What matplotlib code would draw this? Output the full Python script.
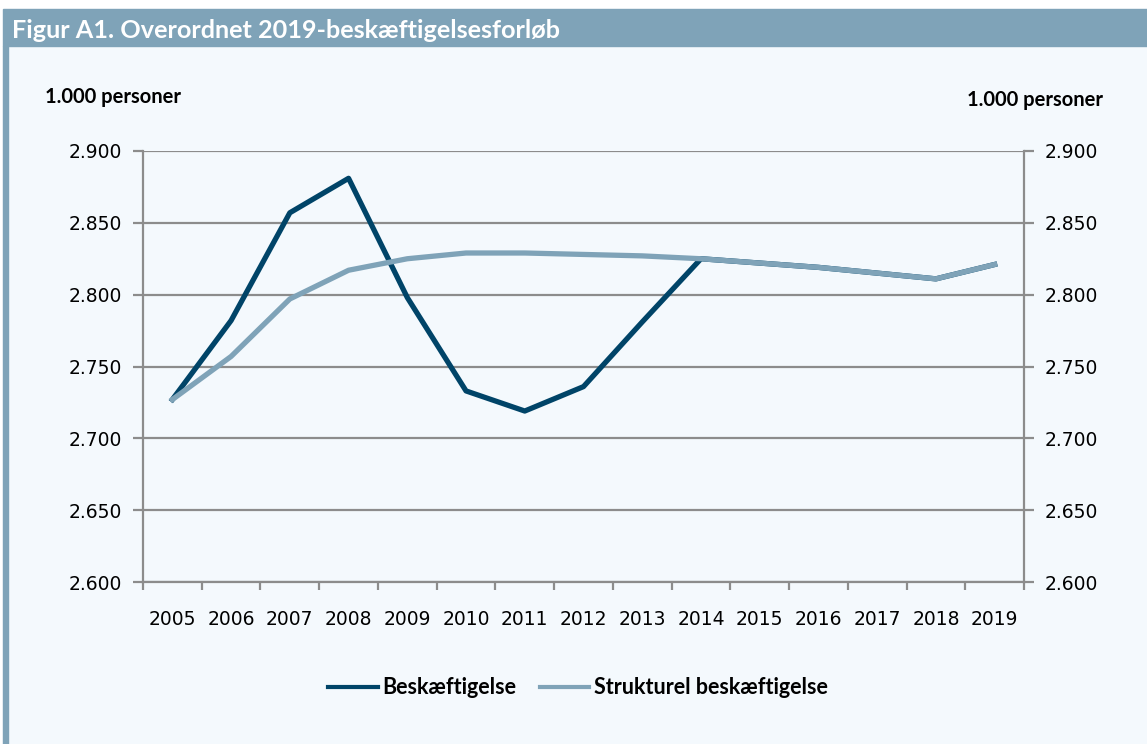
import matplotlib.pyplot as plt
from matplotlib.patches import Rectangle
from matplotlib.ticker import FixedLocator, FuncFormatter

# Data (1.000 personer)
years = [str(y) for y in range(2005, 2020)]
beskaeftigelse = [2727, 2782, 2857, 2881, 2798, 2733, 2719, 2736, 2781, 2825,
                  2822, 2819, 2815, 2811, 2821]
strukturel = [2727, 2757, 2797, 2817, 2825, 2829, 2829, 2828, 2827, 2825,
              2822, 2819, 2815, 2811, 2821]
yticks = [2600, 2650, 2700, 2750, 2800, 2850, 2900]

dark = '#004468'
light = '#7fa3b8'
grid_col = '#8c8c8c'
bg = '#f4f9fd'

fig = plt.figure(figsize=(11.47, 7.44), dpi=100, facecolor='white')

# Panel background, header bar and left stripe
fig.patches.append(Rectangle((3/1147, 0), 1 - 3/1147, 1 - 46/744,
                             transform=fig.transFigure, color=bg, zorder=-2))
fig.patches.append(Rectangle((3/1147, 1 - 46/744), 1 - 3/1147, 37/744,
                             transform=fig.transFigure, color=light, zorder=-2))
fig.patches.append(Rectangle((3/1147, 0), 5/1147, 1 - 46/744,
                             transform=fig.transFigure, color=light, zorder=-2))

fig.text(12/1147, 1 - 30/744, 'Figur A1. Overordnet 2019-beskæftigelsesforløb',
         color='white', fontsize=18.2, fontfamily='Lato', fontweight='bold',
         va='center', ha='left')

ax = fig.add_axes([143/1147, 1 - 582/744, (1024 - 143)/1147, (582 - 151)/744])
ax.patch.set_alpha(0)

x = list(range(len(years)))
ax.plot(x, beskaeftigelse, color=dark, lw=3.8, solid_joinstyle='round',
        label='Beskæftigelse', zorder=3)
ax.plot(x, strukturel, color=light, lw=3.8, solid_joinstyle='round',
        label='Strukturel beskæftigelse', zorder=4)

ax.set_xlim(-0.5, len(years) - 0.5)
ax.set_ylim(2600, 2900)
ax.set_yticks(yticks)
ax.yaxis.set_major_formatter(FuncFormatter(lambda v, p: f'{v/1000:.3f}'))
ax.set_xticks(x)
ax.set_xticklabels(years)
ax.xaxis.set_minor_locator(FixedLocator([i - 0.5 for i in range(len(years) + 1)]))

ax.grid(axis='y', color=grid_col, lw=1.6, zorder=1)
ax.set_axisbelow(True)
for side in ['left', 'right', 'bottom']:
    ax.spines[side].set_color(grid_col)
    ax.spines[side].set_linewidth(1.6)
ax.spines['top'].set_visible(False)

ax.tick_params(axis='y', which='major', left=True, right=True, labelleft=True,
               labelright=True, length=7, width=1.6, color=grid_col,
               labelsize=13.5, pad=8)
ax.tick_params(axis='x', which='major', length=0, labelsize=13.5, pad=20)
ax.tick_params(axis='x', which='minor', length=6, width=1.6, color=grid_col)
for lab in ax.get_xticklabels() + ax.get_yticklabels():
    lab.set_fontfamily('DejaVu Sans')

fig.text(45/1147, 1 - 97/744, '1.000 personer', fontsize=14.5,
         fontfamily='Lato', fontweight='bold', va='center', ha='left')
fig.text(1103/1147, 1 - 100/744, '1.000 personer', fontsize=14.5,
         fontfamily='Lato', fontweight='bold', va='center', ha='right')

leg = fig.legend(loc='center', bbox_to_anchor=(578/1147, 1 - 688/744), ncol=2,
                 frameon=False, handlelength=2.3, handletextpad=0.2,
                 columnspacing=1.1, prop={'family': 'Lato', 'weight': 'bold',
                                          'size': 15.5})
for h in leg.get_lines():
    h.set_linewidth(3)

fig.savefig('out.png', dpi=100, facecolor=fig.get_facecolor())
